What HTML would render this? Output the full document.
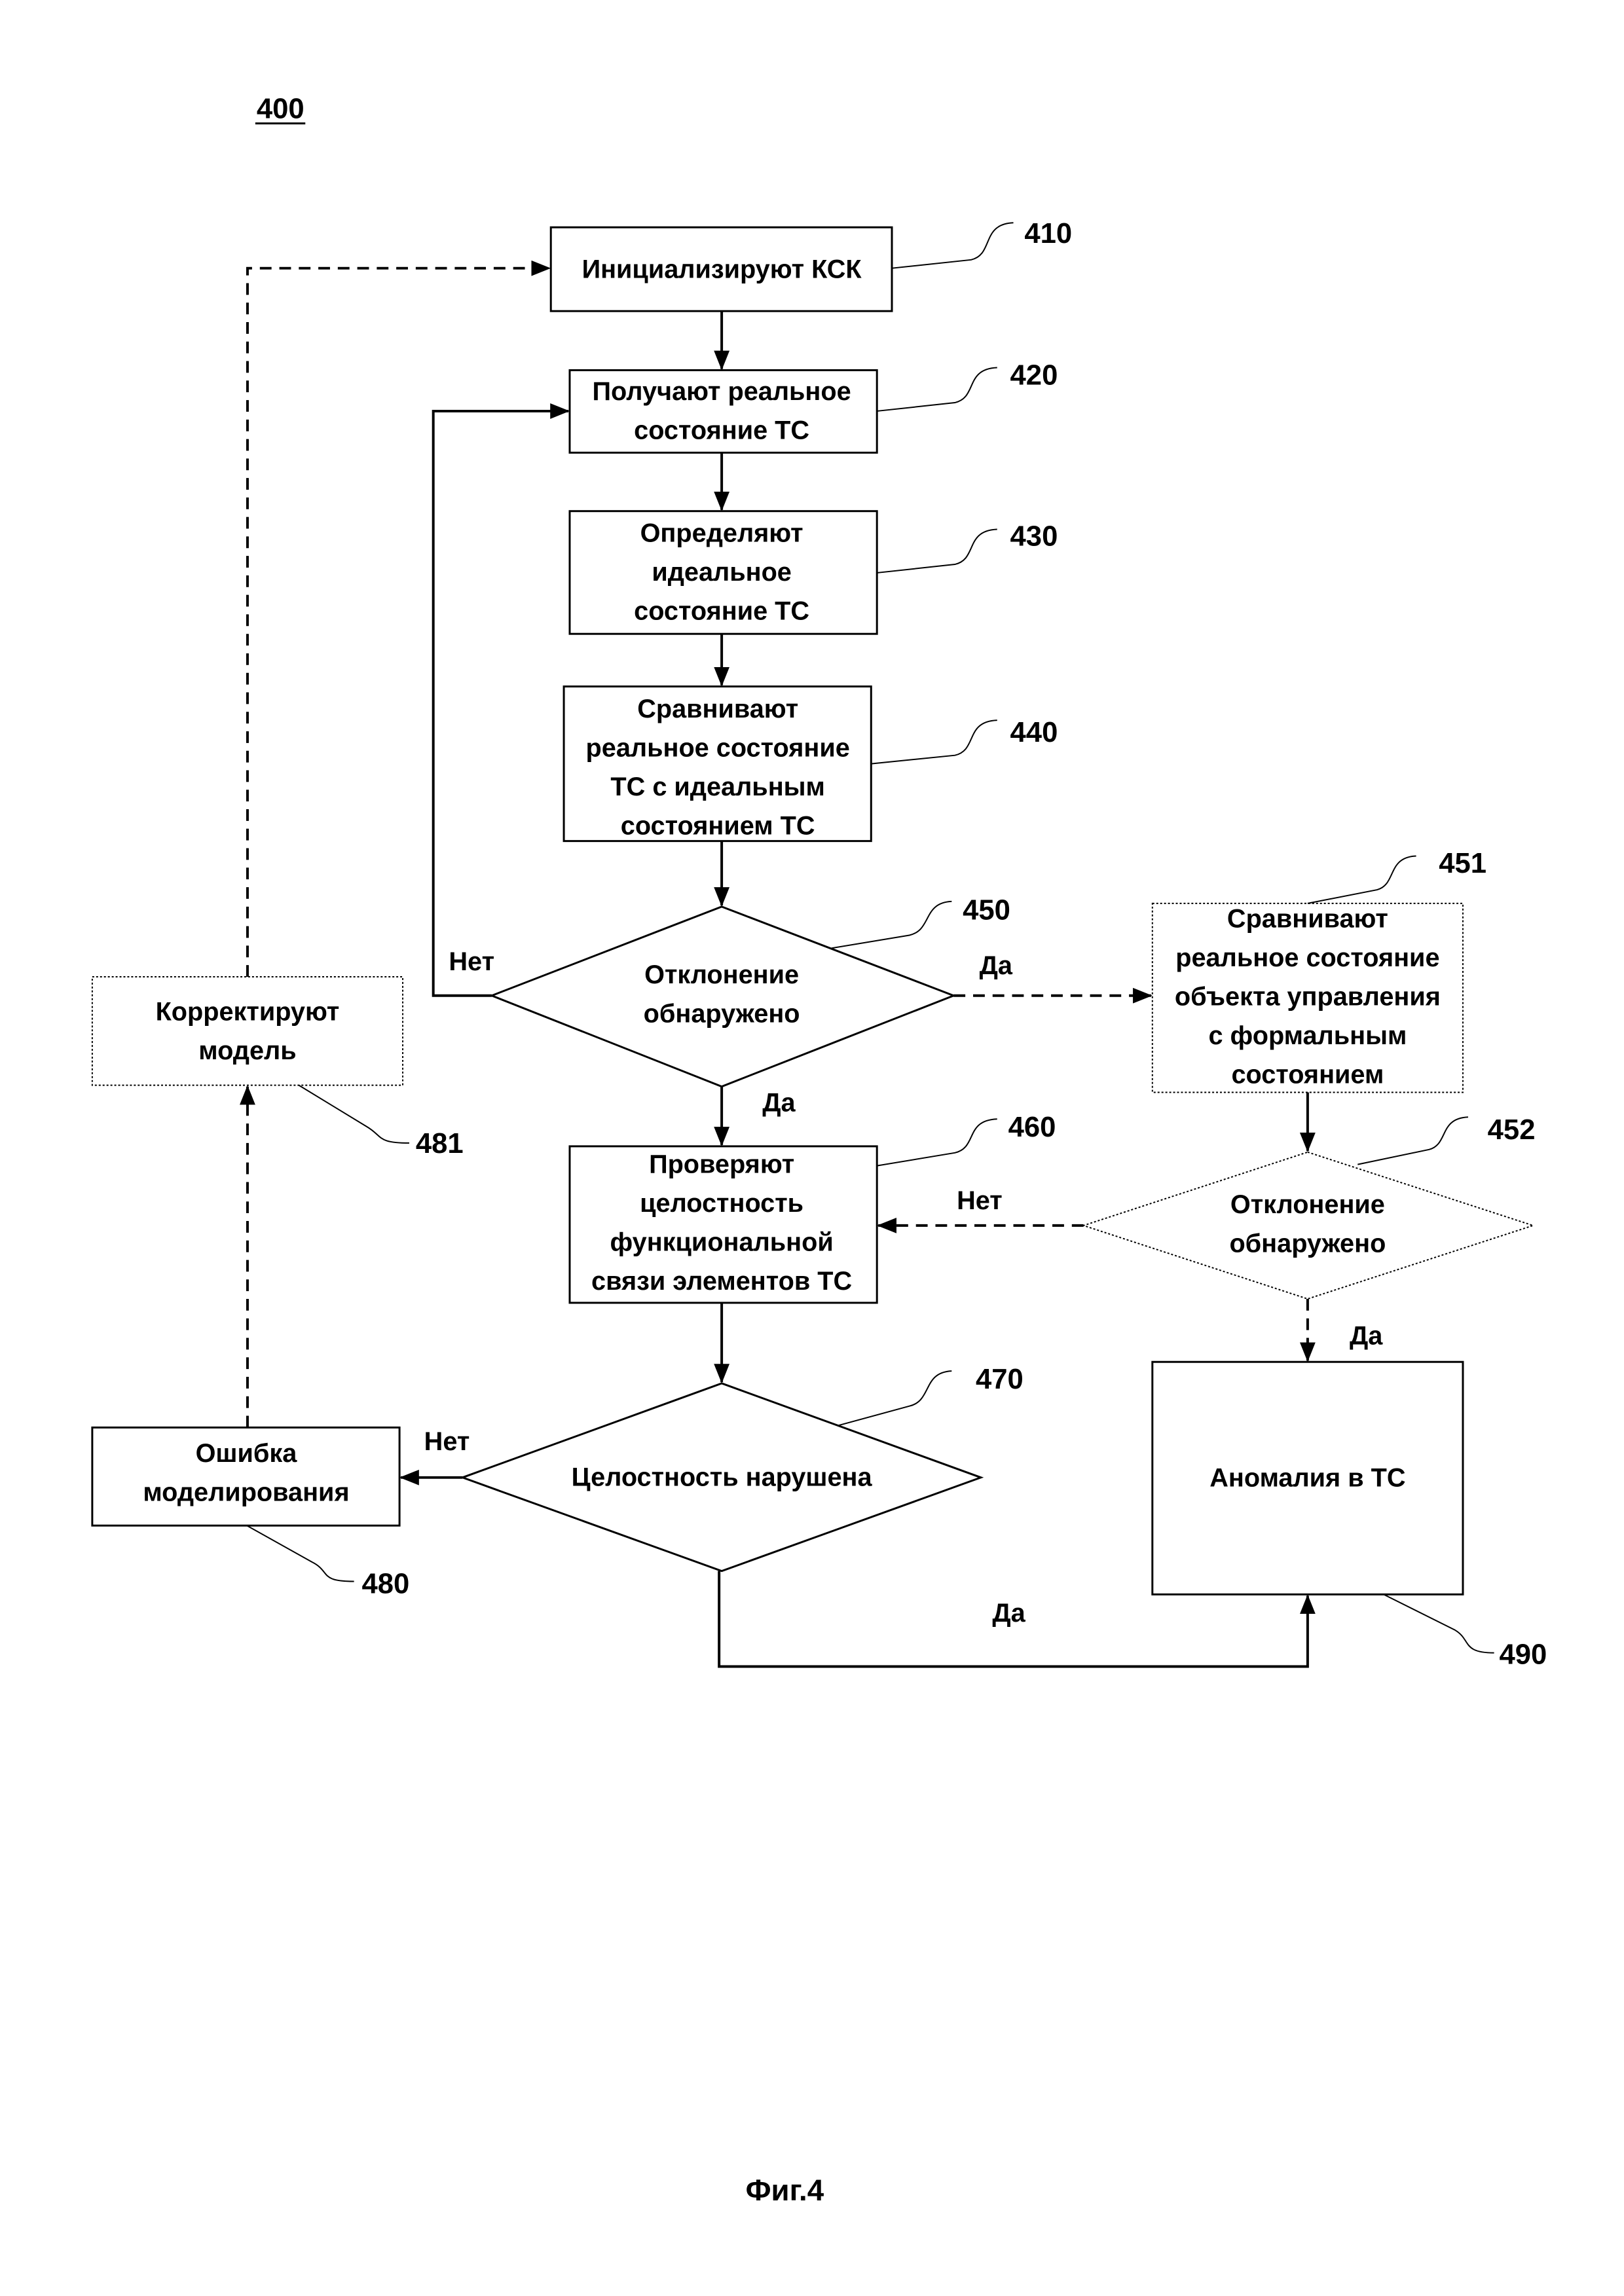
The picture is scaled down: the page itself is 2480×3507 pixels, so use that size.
<!DOCTYPE html>
<html><head><meta charset="utf-8"><style>
html,body{margin:0;padding:0;background:#fff;}
svg{display:block;}
text{font-family:"Liberation Sans",sans-serif;font-weight:bold;fill:#000;}
.t{font-size:40px;text-anchor:middle;}
.n{font-size:44px;}
</style></head><body>
<svg width="2480" height="3507" viewBox="0 0 2480 3507" xmlns="http://www.w3.org/2000/svg">
<defs>
<marker id="a" markerWidth="30" markerHeight="24" refX="28" refY="12" orient="auto" markerUnits="userSpaceOnUse" viewBox="0 0 30 24"><path d="M0,0 L30,12 L0,24 z"/></marker>
</defs>
<g transform="scale(0.992)">
<g fill="none" stroke="#000" stroke-width="3">
<rect x="848" y="350" width="525" height="129"/>
<rect x="877" y="570" width="473" height="127"/>
<rect x="877" y="787" width="473" height="189"/>
<rect x="868" y="1057" width="473" height="238"/>
<polygon points="1111,1396 1468,1533 1111,1673 757,1533"/>
<rect x="1774" y="1391" width="478" height="291" stroke-dasharray="3,3" stroke-width="2"/>
<polygon points="2013,1774 2360,1887 2013,2000 1668,1887" stroke-dasharray="3,3" stroke-width="2"/>
<rect x="877" y="1765" width="473" height="241"/>
<polygon points="1111,2130 1510,2275 1111,2419 712,2275"/>
<rect x="142" y="2198" width="473" height="151"/>
<rect x="142" y="1504" width="478" height="167" stroke-dasharray="3,3" stroke-width="2"/>
<rect x="1774" y="2097" width="478" height="358"/>
</g>
<g fill="none" stroke="#000" stroke-width="4">
<line x1="1111" y1="479" x2="1111" y2="568" marker-end="url(#a)"/>
<line x1="1111" y1="697" x2="1111" y2="785" marker-end="url(#a)"/>
<line x1="1111" y1="976" x2="1111" y2="1055" marker-end="url(#a)"/>
<line x1="1111" y1="1295" x2="1111" y2="1394" marker-end="url(#a)"/>
<line x1="1111" y1="1673" x2="1111" y2="1763" marker-end="url(#a)"/>
<line x1="1111" y1="2006" x2="1111" y2="2128" marker-end="url(#a)"/>
<polyline points="757,1533 667,1533 667,633 875,633" marker-end="url(#a)"/>
<line x1="2013" y1="1682" x2="2013" y2="1772" marker-end="url(#a)"/>
<line x1="712" y1="2275" x2="617" y2="2275" marker-end="url(#a)"/>
<polyline points="1107,2419 1107,2566 2013,2566 2013,2457" marker-end="url(#a)"/>
<g stroke-dasharray="18,12">
<polyline points="381,1504 381,413 846,413" marker-end="url(#a)"/>
<line x1="381" y1="2198" x2="381" y2="1673" marker-end="url(#a)"/>
<line x1="1468" y1="1533" x2="1772" y2="1533" marker-end="url(#a)"/>
<line x1="1668" y1="1887" x2="1352" y2="1887" marker-end="url(#a)"/>
<line x1="2013" y1="2000" x2="2013" y2="2095" marker-end="url(#a)"/>
</g>
</g>
<g fill="none" stroke="#000" stroke-width="2">
<path d="M1373,413 L1495,400 C1530,392 1510,345 1560,343"/>
<path d="M1350,633 L1470,620 C1505,612 1485,568 1535,566"/>
<path d="M1350,882 L1470,869 C1505,861 1485,817 1535,815"/>
<path d="M1341,1176 L1470,1163 C1505,1155 1485,1111 1535,1109"/>
<path d="M1280,1460 L1400,1440 C1435,1432 1420,1390 1465,1388"/>
<path d="M2013,1391 L2120,1370 C2150,1362 2135,1320 2180,1318"/>
<path d="M2090,1793 L2200,1770 C2230,1762 2215,1722 2260,1720"/>
<path d="M1350,1795 L1470,1775 C1505,1767 1485,1725 1535,1723"/>
<path d="M1290,2195 L1400,2165 C1435,2157 1420,2113 1465,2111"/>
<path d="M380,2349 L480,2405 C510,2420 490,2435 545,2435"/>
<path d="M460,1671 L565,1735 C590,1750 580,1760 630,1760"/>
<path d="M2130,2455 L2240,2510 C2265,2525 2250,2545 2300,2545"/>
</g>
<text x="395" y="182" font-size="44">400</text>
<line x1="393" y1="190" x2="470" y2="190" stroke="#000" stroke-width="3"/>
<text class="t" x="1111" y="428">Инициализируют КСК</text>
<text class="t" x="1111" y="616">Получают реальное</text>
<text class="t" x="1111" y="676">состояние ТС</text>
<text class="t" x="1111" y="834">Определяют</text>
<text class="t" x="1111" y="894">идеальное</text>
<text class="t" x="1111" y="954">состояние ТС</text>
<text class="t" x="1105" y="1105">Сравнивают</text>
<text class="t" x="1105" y="1165">реальное состояние</text>
<text class="t" x="1105" y="1225">ТС с идеальным</text>
<text class="t" x="1105" y="1285">состоянием ТС</text>
<text class="t" x="1111" y="1514">Отклонение</text>
<text class="t" x="1111" y="1574">обнаружено</text>
<text class="t" x="2013" y="1428">Сравнивают</text>
<text class="t" x="2013" y="1488">реальное состояние</text>
<text class="t" x="2013" y="1548">объекта управления</text>
<text class="t" x="2013" y="1608">с формальным</text>
<text class="t" x="2013" y="1668">состоянием</text>
<text class="t" x="2013" y="1868">Отклонение</text>
<text class="t" x="2013" y="1928">обнаружено</text>
<text class="t" x="1111" y="1806">Проверяют</text>
<text class="t" x="1111" y="1866">целостность</text>
<text class="t" x="1111" y="1926">функциональной</text>
<text class="t" x="1111" y="1986">связи элементов ТС</text>
<text class="t" x="1111" y="2288">Целостность нарушена</text>
<text class="t" x="379" y="2251">Ошибка</text>
<text class="t" x="379" y="2311">моделирования</text>
<text class="t" x="381" y="1571">Корректируют</text>
<text class="t" x="381" y="1631">модель</text>
<text class="t" x="2013" y="2289">Аномалия в ТС</text>
<text class="t" x="726" y="1494">Нет</text>
<text class="t" x="1533" y="1500">Да</text>
<text class="t" x="1199" y="1711">Да</text>
<text class="t" x="1508" y="1862">Нет</text>
<text class="t" x="2103" y="2070">Да</text>
<text class="t" x="688" y="2233">Нет</text>
<text class="t" x="1553" y="2497">Да</text>
<text class="n" x="1577" y="374">410</text>
<text class="n" x="1555" y="592">420</text>
<text class="n" x="1555" y="840">430</text>
<text class="n" x="1555" y="1142">440</text>
<text class="n" x="1482" y="1416">450</text>
<text class="n" x="2215" y="1344">451</text>
<text class="n" x="2290" y="1754">452</text>
<text class="n" x="1552" y="1750">460</text>
<text class="n" x="1502" y="2138">470</text>
<text class="n" x="557" y="2453">480</text>
<text class="n" x="640" y="1775">481</text>
<text class="n" x="2308" y="2562">490</text>
<text x="1208" y="3388" font-size="46" text-anchor="middle">Фиг.4</text>
</g>
</svg>
</body></html>
